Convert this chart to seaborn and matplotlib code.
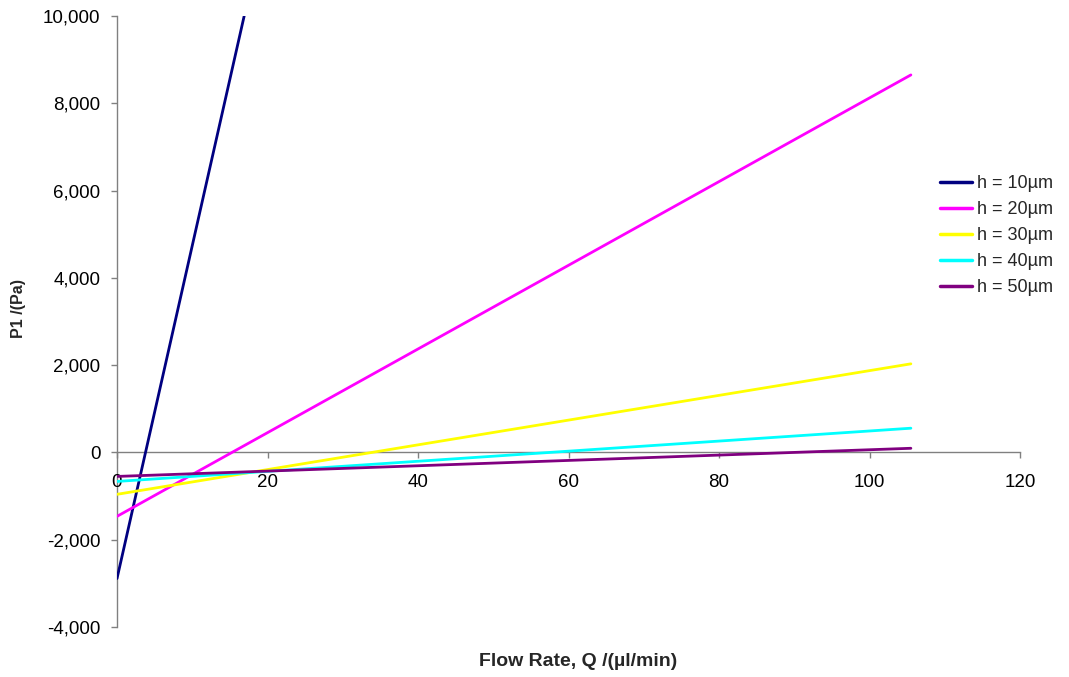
import matplotlib
matplotlib.use("Agg")
import matplotlib.pyplot as plt
import matplotlib.ticker as mticker
import seaborn as sns
import pandas as pd

# Data
series_names = ["h = 10µm", "h = 20µm", "h = 30µm", "h = 40µm", "h = 50µm"]
q_h10 = [0.0, 16.9]
p_h10 = [-2890, 10000]
q_h20 = [0.0, 105.5]
p_h20 = [-1465, 8650]
q_h30 = [0.0, 105.5]
p_h30 = [-960, 2030]
q_h40 = [0.0, 105.5]
p_h40 = [-665, 555]
q_h50 = [0.0, 105.5]
p_h50 = [-550, 95]
colors = ["#000080", "#FF00FF", "#FFFF00", "#00FFFF", "#800080"]
x_ticks = [0, 20, 40, 60, 80, 100, 120]
y_ticks = [-4000, -2000, 0, 2000, 4000, 6000, 8000, 10000]

qs = [q_h10, q_h20, q_h30, q_h40, q_h50]
ps = [p_h10, p_h20, p_h30, p_h40, p_h50]
rows = []
for name, q, p in zip(series_names, qs, ps):
    for qi, pi in zip(q, p):
        rows.append({"Q": qi, "P": pi, "series": name})
df = pd.DataFrame(rows)

sns.set_theme(style="white")
plt.rcParams["font.family"] = ["Liberation Sans", "DejaVu Sans"]

fig = plt.figure(figsize=(10.69, 6.77), dpi=100)
ax = fig.add_axes([117 / 1069, (677 - 627) / 677, (1020 - 117) / 1069, (627 - 16) / 677])

sns.lineplot(data=df, x="Q", y="P", hue="series", hue_order=series_names,
             palette=colors, linewidth=2.0, ax=ax, legend=True, sort=False,
             estimator=None)

ax.set_xlim(0, 120)
ax.set_ylim(-4000, 10000)
ax.set_xticks(x_ticks)
ax.set_yticks(y_ticks)
ax.yaxis.set_major_formatter(mticker.FuncFormatter(lambda v, _: f"{int(v):,}"))

for s in ["top", "right"]:
    ax.spines[s].set_visible(False)
ax.spines["bottom"].set_position(("data", 0))
ax.spines["left"].set_position(("data", 0))
for s in ["bottom", "left"]:
    ax.spines[s].set_color("#808080")
    ax.spines[s].set_linewidth(1.0)
    ax.spines[s].set_zorder(0.5)

ax.tick_params(axis="both", which="major", direction="out", length=4.5, width=1.0,
               color="#808080", labelsize=13.5, labelcolor="black")
ax.tick_params(axis="x", pad=11, bottom=True)
ax.tick_params(axis="y", pad=7.5, left=True)

ax.set_xlabel("")
ax.set_ylabel("")
fig.text(578 / 1069, 1 - 662 / 677, "Flow Rate, Q /(µl/min)", ha="center", va="center",
         fontsize=14, fontweight="bold")
fig.text(18 / 1069, 1 - 308 / 677, "P1 /(Pa)", ha="center", va="center",
         fontsize=11.5, fontweight="bold", rotation=90)

leg = ax.legend(loc="upper left", bbox_to_anchor=(940 / 1069, 1 - 175 / 677),
                bbox_transform=fig.transFigure, frameon=False, fontsize=13,
                handlelength=1.75, handletextpad=0.3, labelspacing=0.5,
                borderaxespad=0, borderpad=0)
for line in leg.get_lines():
    line.set_linewidth(2.5)

fig.savefig("out.png", dpi=100)
